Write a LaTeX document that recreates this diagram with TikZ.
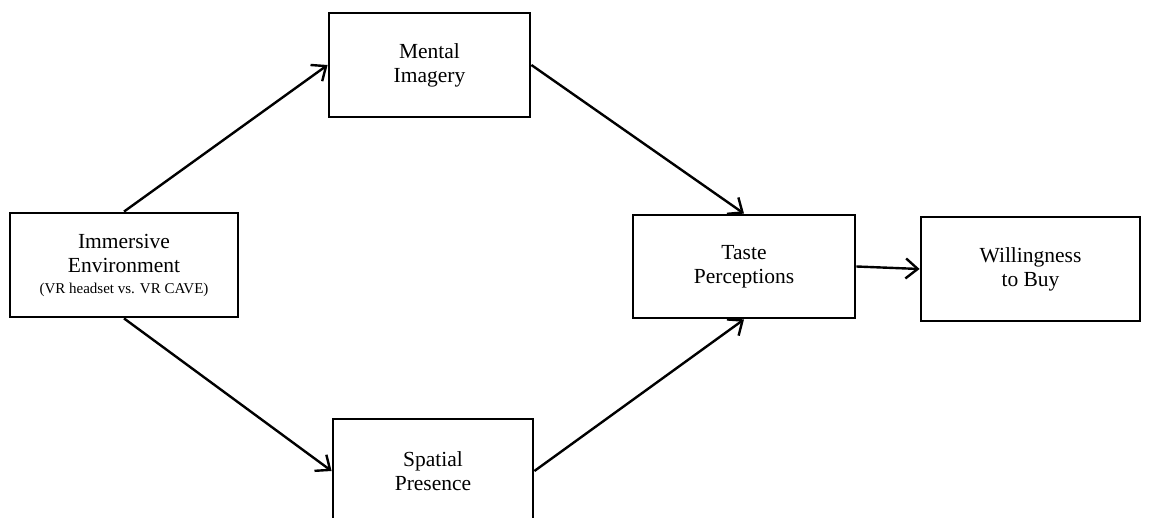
\documentclass[tikz,border=0pt]{standalone}
\usepackage{fontspec}
\setmainfont{Liberation Serif}
\usetikzlibrary{arrows.meta}
\begin{document}
\begin{tikzpicture}[x=1pt,y=-1pt,
  box/.style={draw, line width=2.8pt, inner sep=0pt, align=center,
    font=\fontsize{21.5}{24}\selectfont},
  link/.style={line width=2.4pt,
    -{Straight Barb[length=12pt,width=20pt,line width=2.4pt]}}]
\useasboundingbox (0,0) rectangle (1158,518);
\node[box, minimum width=228pt, minimum height=104pt] (ie) at (124,265)
  {Immersive\\Environment\\[-3pt]{\fontsize{15}{18}\selectfont (VR headset vs. VR CAVE)}};
\node[box, minimum width=201pt, minimum height=104pt] (mi) at (429.5,65)
  {Mental\\Imagery};
\node[box, minimum width=200pt, minimum height=104pt] (sp) at (433,471)
  {Spatial\\Presence};
\node[box, minimum width=222pt, minimum height=103pt] (tp) at (744,266.5)
  {Taste\\Perceptions};
\node[box, minimum width=219pt, minimum height=104pt] (wb) at (1030.5,269)
  {Willingness\\to Buy};
\draw[link] (ie.north) -- (mi.west);
\draw[link] (ie.south) -- (sp.west);
\draw[link] (mi.east) -- (tp.north);
\draw[link] (sp.east) -- (tp.south);
\draw[link] (tp.east) -- (wb.west);
\end{tikzpicture}
\end{document}
